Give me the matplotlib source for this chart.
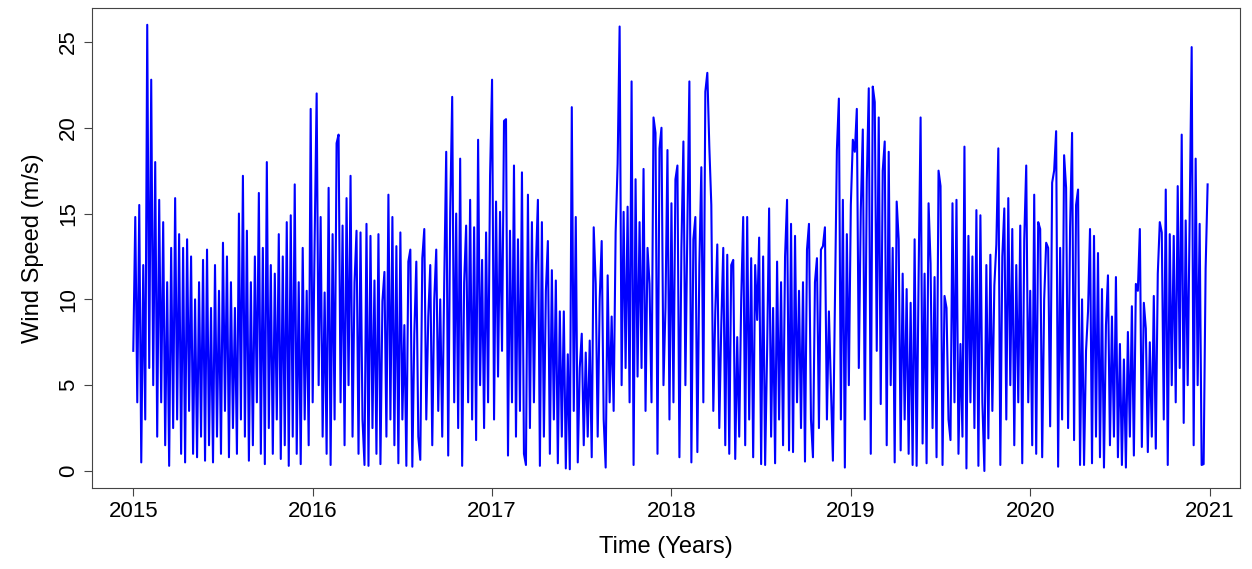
import numpy as np
import matplotlib
matplotlib.use("Agg")
import matplotlib.pyplot as plt

# daily wind speed (about every 4 days, peaks and troughs)
wind_2015 = [7.0, 14.8, 4.0, 15.5, 0.5, 12.0, 3.0, 26.0, 6.0, 22.8,
             5.0, 18.0, 2.0, 15.8, 4.0, 14.5, 1.5, 11.0, 0.3, 13.0,
             2.5, 15.9, 3.0, 13.8, 1.0, 13.0, 0.5, 13.5, 3.5, 12.5,
             1.0, 10.0, 0.8, 11.0, 2.0, 12.3, 0.6, 12.9, 1.5, 9.5,
             0.5, 12.0, 2.0, 10.5, 1.0, 13.3, 3.5, 12.5, 0.8, 11.0,
             2.5, 9.5, 1.0, 15.0, 3.0, 17.2, 2.0, 14.0, 0.6, 11.0,
             1.5, 12.5, 4.0, 16.2, 1.0, 13.0, 0.4, 18.0, 2.5, 12.0,
             1.0, 11.5, 3.0, 13.8, 0.7, 12.5, 1.5, 14.5, 0.3, 14.9,
             2.0, 16.7, 1.0, 11.0, 0.4, 13.0, 3.0, 10.5, 1.5, 21.1]
wind_2016 = [4.0, 13.5, 22.0, 5.0, 14.8, 2.0, 10.4, 1.0, 16.5, 0.35,
             13.8, 3.0, 19.1, 19.6, 4.0, 14.3, 1.5, 15.9, 5.0, 17.2,
             2.0, 11.0, 14.0, 1.0, 13.9, 3.0, 0.35, 14.4, 0.3, 13.7,
             2.5, 11.1, 1.0, 13.8, 0.4, 9.9, 11.6, 2.0, 16.1, 3.0,
             14.8, 1.5, 13.1, 0.45, 13.9, 3.0, 8.5, 0.3, 12.2, 12.9,
             0.25, 8.0, 12.2, 2.0, 0.65, 12.4, 14.1, 3.0, 9.0, 12.0,
             1.5, 10.0, 12.9, 3.5, 10.0, 2.0, 11.0, 18.6, 0.9, 15.1,
             21.8, 4.0, 15.0, 2.5, 18.2, 0.3, 11.0, 14.3, 4.0, 15.8,
             3.0, 14.2, 1.8, 19.3, 5.0, 12.3, 2.5, 13.9, 4.0, 17.2]
wind_2017 = [22.8, 3.0, 15.7, 5.5, 15.1, 7.0, 20.4, 20.5, 0.9, 14.0,
             4.0, 17.8, 2.0, 13.5, 3.5, 17.4, 1.0, 0.35, 16.1, 2.5,
             14.5, 4.0, 12.0, 15.8, 0.3, 14.5, 2.0, 10.5, 13.4, 1.0,
             11.7, 3.0, 11.1, 0.45, 9.3, 2.0, 9.3, 0.15, 6.8, 0.1,
             21.2, 3.5, 14.8, 0.5, 6.0, 8.0, 1.5, 6.9, 2.0, 7.6,
             0.8, 14.2, 10.9, 2.0, 10.0, 13.4, 3.0, 0.2, 11.4, 4.0,
             9.0, 3.5, 13.9, 17.9, 25.9, 5.0, 15.1, 6.0, 15.4, 4.0,
             22.7, 0.35, 17.0, 5.5, 14.5, 6.0, 17.6, 3.5, 13.0, 10.9,
             4.0, 20.6, 19.7, 1.0, 18.8, 20.0, 5.0, 9.5, 18.7, 3.0]
wind_2018 = [15.6, 4.0, 17.0, 17.8, 0.8, 13.0, 19.2, 5.0, 14.3, 22.7,
             0.5, 13.5, 14.8, 1.1, 12.0, 17.7, 4.0, 22.1, 23.2, 18.9,
             15.5, 3.5, 9.3, 13.2, 2.5, 8.5, 13.0, 1.5, 12.6, 1.0,
             12.0, 12.3, 0.7, 7.8, 2.0, 10.0, 14.8, 1.5, 14.8, 3.0,
             12.4, 0.8, 12.0, 8.8, 13.6, 0.4, 12.5, 0.35, 7.0, 15.3,
             2.0, 9.5, 0.45, 12.2, 3.0, 11.0, 1.5, 12.5, 15.8, 1.2,
             14.4, 1.1, 13.7, 4.0, 10.5, 2.5, 11.0, 0.55, 12.9, 14.4,
             3.0, 0.8, 11.0, 12.4, 2.5, 12.9, 13.1, 14.2, 3.0, 9.3,
             5.0, 0.6, 9.8, 18.7, 21.7, 3.0, 15.8, 0.2, 13.8, 5.0]
wind_2019 = [15.5, 19.3, 18.6, 21.1, 6.0, 15.2, 19.9, 3.0, 16.9, 22.3,
             1.0, 22.4, 21.5, 7.0, 20.6, 3.9, 17.5, 19.2, 1.5, 18.6,
             5.0, 13.0, 0.5, 15.7, 13.5, 1.2, 11.5, 3.0, 10.6, 1.0,
             9.8, 0.35, 13.5, 0.3, 11.3, 20.6, 1.6, 11.5, 0.45, 15.6,
             12.1, 2.5, 11.3, 0.8, 17.5, 16.6, 0.35, 10.2, 9.5, 3.0,
             1.8, 15.6, 4.0, 15.8, 1.0, 7.4, 2.0, 18.9, 0.15, 13.7,
             4.0, 12.5, 2.5, 15.2, 0.3, 14.9, 4.0, 0.0, 12.0, 1.9,
             12.6, 3.5, 10.8, 13.2, 18.8, 0.35, 12.5, 15.3, 3.0, 15.9,
             5.0, 14.1, 1.5, 12.0, 4.0, 14.3, 0.45, 13.5, 17.8, 4.0]
wind_2020 = [10.5, 1.5, 16.1, 1.0, 14.5, 14.1, 0.8, 10.0, 13.3, 13.0,
             2.6, 16.8, 17.5, 19.8, 0.25, 13.0, 3.0, 18.4, 16.5, 2.5,
             14.2, 19.7, 1.8, 15.5, 16.4, 0.35, 10.0, 0.35, 7.0, 9.3,
             14.1, 0.45, 13.7, 2.0, 12.7, 0.8, 10.6, 0.2, 8.5, 11.4,
             1.5, 9.0, 2.0, 11.3, 0.8, 7.4, 0.35, 6.5, 0.2, 8.1,
             2.0, 9.6, 0.9, 10.9, 10.5, 14.1, 1.4, 9.8, 8.3, 1.1,
             7.5, 2.0, 10.2, 1.3, 11.5, 14.5, 13.9, 3.0, 16.4, 0.35,
             13.8, 5.0, 13.7, 4.0, 16.6, 6.0, 19.6, 2.8, 14.6, 5.0,
             15.1, 24.7, 1.5, 18.2, 5.0, 14.4, 0.35, 0.4, 11.8, 16.7]

years = [2015, 2016, 2017, 2018, 2019, 2020]
series = [wind_2015, wind_2016, wind_2017, wind_2018, wind_2019, wind_2020]

t = np.concatenate([yr + np.arange(len(v)) / len(v) for yr, v in zip(years, series)])
ws = np.concatenate([np.array(v) for v in series])

plt.rcParams['font.family'] = ['Liberation Sans', 'DejaVu Sans']

fig = plt.figure(figsize=(12.52, 5.69), dpi=100)
ax = fig.add_axes([0.0735, 0.1424, 0.917, 0.8436])

ax.plot(t, ws, color='#0000ff', linewidth=1.5)

ax.set_xlim(2014.77, 2021.17)
ax.set_ylim(-0.99, 26.98)
ax.set_xticks([2015, 2016, 2017, 2018, 2019, 2020, 2021])
ax.set_yticks([0, 5, 10, 15, 20, 25])
ax.tick_params(axis='both', labelsize=16, length=6, width=0.8, color='#444444')
for lab in ax.get_yticklabels():
    lab.set_rotation(90)
    lab.set_va('center')

for s in ax.spines.values():
    s.set_color('#444444')
    s.set_linewidth(0.8)

ax.set_xlabel('Time (Years)', fontsize=17, labelpad=10)
ax.set_ylabel('Wind Speed (m/s)', fontsize=17, labelpad=10)

fig.savefig('out.png', dpi=100)
